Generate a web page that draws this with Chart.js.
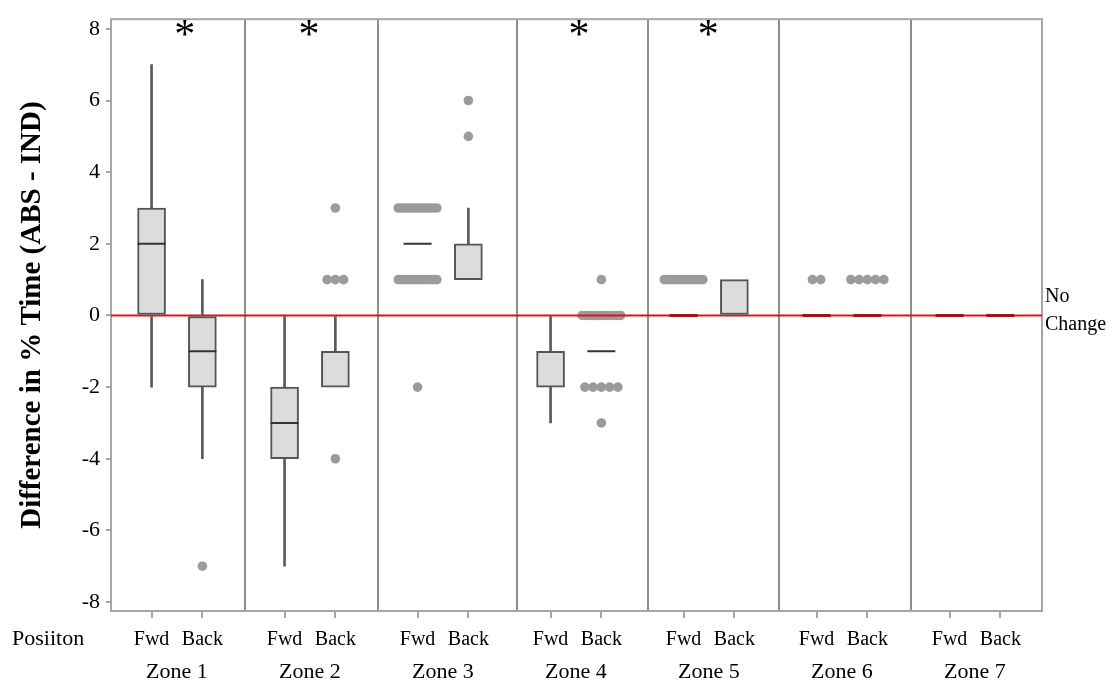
<!DOCTYPE html>
<html>
<head>
<meta charset="utf-8">
<title>Difference in % Time (ABS - IND) por zona</title>
<script src="https://cdn.jsdelivr.net/npm/chart.js@4.4.1/dist/chart.umd.min.js"></script>
<style>
  html, body { margin: 0; padding: 0; background: #fff; }
</style>
</head>
<body>
<canvas id="g-zonas" width="1117" height="684"></canvas>
<script>
// =====================================================
// DATOS
// =====================================================

const zonas = ["Zone 1", "Zone 2", "Zone 3", "Zone 4", "Zone 5", "Zone 6", "Zone 7"];
const posiciones = ["Fwd", "Back"];
const yTicks = [-8, -6, -4, -2, 0, 2, 4, 6, 8];

// una entrada por caja: Z1 Fwd, Z1 Back, Z2 Fwd, Z2 Back, ...
const q1 =        [0, -2, -4, -2, null, 1, -2, null, null, 0, null, null, null, null];
const q3 =        [3,  0, -2, -1, null, 2, -1, null, null, 1, null, null, null, null];
const medianas =  [2, -1, -3, -1, 2, 2, -1, -1, 0, 1, 0, 0, 0, 0];
const bigoteMin = [-2, -4, -7, null, null, null, -3, null, null, null, null, null, null, null];
const bigoteMax = [7, 1, 0, 0, null, 3, 0, null, null, null, null, null, null, null];

// valores atipicos: caja, valor, cuantos
const atipCaja =   [1, 3, 3, 3, 4, 4, 4, 5, 5, 7, 7, 7, 7, 8, 10, 11];
const atipValor =  [-7, 3, 1, -4, 3, 1, -2, 6, 5, 1, 0, -2, -3, 1, 1, 1];
const atipCuenta = [1, 1, 3, 1, 12, 12, 1, 1, 1, 1, 12, 5, 1, 12, 2, 5];

const zonasSignif = [0, 1, 3, 4];
const valorReferencia = 0;

// =====================================================
// DISPOSICION
// =====================================================

const FUENTE = "'Liberation Serif', 'Times New Roman', serif";
const OFF_FWD = 0.305, OFF_BACK = 0.687;
const divisiones = [1.011, 2.008, 3.053, 4.04, 5.025, 6.013];
const asteriscoX = [0.554, 1.489, 2.5, 3.519, 4.491, 5.5, 6.5];
const asteriscoY = 8.02;
const PASO_JITTER = 0.062, SPAN_JITTER = 0.29;

const posX = i => Math.floor(i / 2) + (i % 2 ? OFF_BACK : OFF_FWD);

function construirCajas() {
  const out = [];
  q1.forEach((v, i) => { if (v !== null) out.push({ x: posX(i), y: [v, q3[i]] }); });
  return out;
}

function construirBigotes() {
  const out = [];
  bigoteMin.forEach((v, i) => {
    const base = q1[i] !== null ? q1[i] : medianas[i];
    if (v !== null) out.push({ x: posX(i), y: [v, base] });
  });
  bigoteMax.forEach((v, i) => {
    const base = q3[i] !== null ? q3[i] : medianas[i];
    if (v !== null) out.push({ x: posX(i), y: [base, v] });
  });
  return out;
}

function construirMedianas() {
  const out = [];
  medianas.forEach((m, i) => {
    if (m === null || m === q1[i] || m === q3[i]) return;
    out.push({ x: posX(i), y: m });
  });
  return out;
}

function construirAtipicos() {
  const out = [];
  atipCaja.forEach((c, k) => {
    const n = atipCuenta[k];
    const paso = n > 1 ? Math.min(PASO_JITTER, SPAN_JITTER / (n - 1)) : 0;
    for (let j = 0; j < n; j++) {
      out.push({ x: posX(c) + (j - (n - 1) / 2) * paso, y: atipValor[k] });
    }
  });
  return out;
}

const datosMedianas = construirMedianas();

const pluginDecoracion = {
  id: "decoracion",
  beforeDatasetsDraw(chart) {
    const { ctx, chartArea: a, scales: { x } } = chart;
    ctx.save();
    ctx.lineWidth = 2;
    ctx.strokeStyle = "#8e8e8e";
    divisiones.forEach(d => {
      const px = Math.round(x.getPixelForValue(d));
      ctx.beginPath();
      ctx.moveTo(px, a.top);
      ctx.lineTo(px, a.bottom);
      ctx.stroke();
    });
    ctx.strokeStyle = "#a6a6a6";
    ctx.strokeRect(a.left, a.top, a.right - a.left, a.bottom - a.top);
    ctx.restore();
  },
  afterDatasetDraw(chart, args) {
    // linea de "No Change": encima de los puntos, debajo de cajas y medianas
    if (args.meta.label !== "Atipicos") return;
    const { ctx, chartArea: a, scales: { y } } = chart;
    const y0 = y.getPixelForValue(valorReferencia);
    ctx.save();
    ctx.lineWidth = 2;
    ctx.strokeStyle = "#dc1414";
    ctx.beginPath();
    ctx.moveTo(a.left, y0);
    ctx.lineTo(a.right, y0);
    ctx.stroke();
    ctx.restore();
  },
  afterDraw(chart) {
    const { ctx, chartArea: a, scales: { x, y } } = chart;
    ctx.save();
    ctx.fillStyle = "#000";
    ctx.textAlign = "center";
    ctx.textBaseline = "alphabetic";
    ctx.font = `42px ${FUENTE}`;
    const m = ctx.measureText("*");
    const ajuste = (m.actualBoundingBoxAscent - m.actualBoundingBoxDescent) / 2;
    zonasSignif.forEach(z => {
      ctx.fillText("*", x.getPixelForValue(asteriscoX[z]), y.getPixelForValue(asteriscoY) + ajuste);
    });

    const y0 = y.getPixelForValue(valorReferencia);
    ctx.font = `20px ${FUENTE}`;
    ctx.textAlign = "left";
    ctx.textBaseline = "middle";
    ctx.fillText("No", a.right + 3, y0 - 19);
    ctx.fillText("Change", a.right + 3, y0 + 9);

    ctx.font = `22px ${FUENTE}`;
    ctx.fillText("Posiiton", 12, x.top + 28);
    ctx.restore();
  }
};

new Chart(document.getElementById("g-zonas"), {
  type: "bar",
  data: {
    datasets: [
      {
        type: "scatter",
        label: "Atipicos",
        data: construirAtipicos(),
        backgroundColor: "#9b9b9b",
        borderWidth: 0,
        pointRadius: 4.8,
        order: 2
      },
      {
        type: "scatter",
        label: "Mediana",
        data: datosMedianas,
        pointStyle: "line",
        pointRadius: 14,
        borderColor: datosMedianas.map(p => p.y === valorReferencia ? "#a31212" : "#333"),
        pointBorderWidth: datosMedianas.map(p => p.y === valorReferencia ? 3 : 2),
        backgroundColor: "transparent",
        order: 0
      },
      {
        label: "Caja",
        data: construirCajas(),
        backgroundColor: "#dcdcdc",
        borderColor: "#555",
        borderWidth: 2,
        borderSkipped: false,
        barThickness: 28,
        grouped: false,
        order: 1
      },
      {
        label: "Bigote",
        data: construirBigotes(),
        backgroundColor: "#5a5a5a",
        borderWidth: 0,
        barThickness: 2,
        grouped: false,
        order: 3
      }
    ]
  },
  options: {
    responsive: false,
    animation: false,
    devicePixelRatio: 1,
    layout: { padding: { top: 10, right: 75, bottom: 0, left: 0 } },
    plugins: { legend: { display: false }, tooltip: { enabled: false } },
    scales: {
      x: {
        type: "linear",
        position: "bottom",
        min: 0,
        max: 7,
        offset: false,
        weight: 0,
        afterBuildTicks: s => { s.ticks = q1.map((_, i) => ({ value: posX(i) })); },
        afterFit: s => { s.height = 36; },
        ticks: {
          autoSkip: false,
          maxRotation: 0,
          padding: 10,
          color: "#000",
          font: { family: FUENTE, size: 20 },
          callback: (v, i) => posiciones[i % 2]
        },
        grid: { offset: false, drawOnChartArea: false, drawTicks: true, tickLength: 7, color: "#a6a6a6", lineWidth: 2 },
        border: { display: false }
      },
      zona: {
        type: "linear",
        position: "bottom",
        min: 0,
        max: 7,
        offset: false,
        weight: 1,
        afterBuildTicks: s => { s.ticks = zonas.map((_, z) => ({ value: z + (OFF_FWD + OFF_BACK) / 2 })); },
        afterFit: s => { s.height = 37; },
        ticks: {
          autoSkip: false,
          maxRotation: 0,
          padding: 4,
          color: "#000",
          font: { family: FUENTE, size: 22 },
          callback: (v, i) => zonas[i]
        },
        grid: { display: false },
        border: { display: false }
      },
      y: {
        type: "linear",
        min: -8.25,
        max: 8.27,
        afterBuildTicks: s => { s.ticks = yTicks.map(v => ({ value: v })); },
        afterFit: s => { s.width = 111; },
        ticks: {
          padding: 6,
          color: "#000",
          font: { family: FUENTE, size: 22 }
        },
        grid: { drawOnChartArea: false, drawTicks: true, tickLength: 5, color: "#a6a6a6", lineWidth: 2 },
        border: { display: false },
        title: {
          display: true,
          text: "Difference in % Time (ABS - IND)",
          color: "#000",
          font: { family: FUENTE, size: 29, weight: "bold" },
          padding: { top: 15, bottom: 0 }
        }
      }
    }
  },
  plugins: [pluginDecoracion]
});
</script>
</body>
</html>
